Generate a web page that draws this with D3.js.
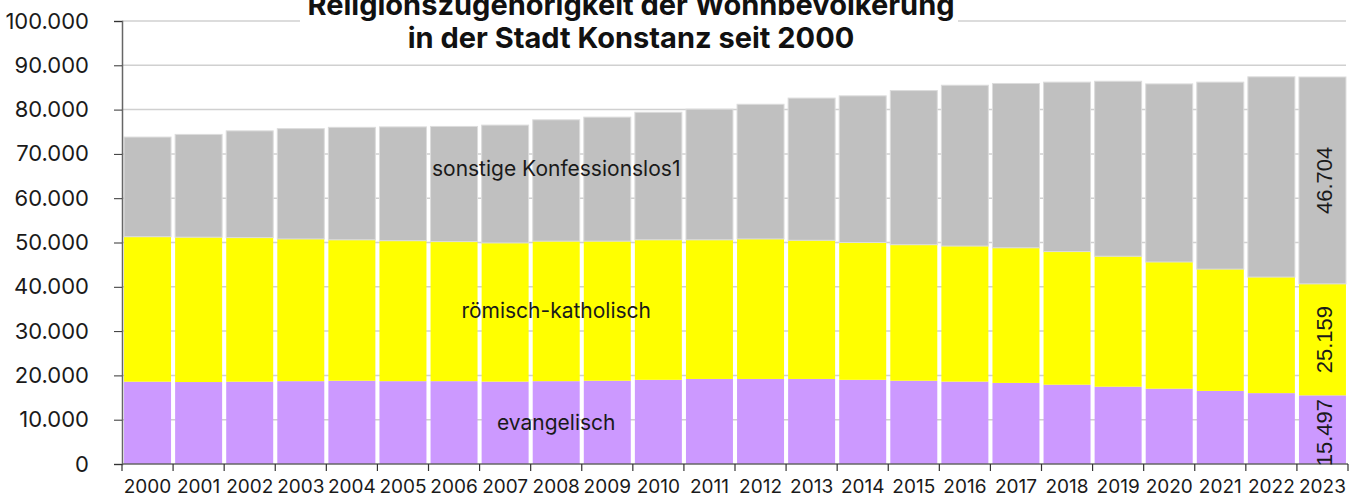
<!DOCTYPE html>
<html lang="de">
<head>
  <meta charset="UTF-8">
  <title>Religionszugehörigkeit Konstanz</title>
  <script src="https://d3js.org/d3.v7.min.js"></script>
  <style>
    html, body { margin: 0; padding: 0; background: #ffffff; }
    svg { display: block; font-family: Inter, 'Noto Sans', sans-serif; }
    .tick text { fill: #1a1a1a; }
    .cat-label { font-size: 21px; fill: #1a1a1a; text-anchor: middle; }
    .val-label { font-family: 'Liberation Sans', Arial, sans-serif; font-size: 22px; fill: #1a1a1a; text-anchor: middle; }
  </style>
</head>
<body>
  <svg id="chart" width="1356" height="499"></svg>

  <script>
    const years = ["2000","2001","2002","2003","2004","2005","2006","2007","2008","2009","2010","2011",
                   "2012","2013","2014","2015","2016","2017","2018","2019","2020","2021","2022","2023"];

    const evangelisch = [18580, 18500, 18580, 18700, 18800, 18700, 18700, 18600, 18700, 18800, 19000, 19200,
                         19200, 19200, 19000, 18800, 18600, 18300, 17900, 17450, 17000, 16500, 16000, 15497];
    const katholisch = [32720, 32700, 32520, 32100, 31800, 31700, 31500, 31300, 31600, 31500, 31600, 31400,
                        31600, 31300, 31000, 30700, 30600, 30500, 30050, 29450, 28600, 27500, 26200, 25159];
    const sonstige = [22500, 23200, 24100, 24900, 25400, 25700, 26000, 26600, 27400, 28000, 28800, 29500,
                      30400, 32100, 33100, 34800, 36300, 37100, 38250, 39500, 40200, 42200, 45200, 46704];

    const yTicks = [0, 10000, 20000, 30000, 40000, 50000, 60000, 70000, 80000, 90000, 100000];
    const titleLines = ["Religionszugehörigkeit der Wohnbevölkerung", "in der Stadt Konstanz seit 2000"];

    const seriesKeys = ["evangelisch", "katholisch", "sonstige"];
    const seriesNames = {evangelisch: "evangelisch", katholisch: "römisch-katholisch", sonstige: "sonstige Konfessionslos1"};
    const colors = {evangelisch: "#cc99ff", katholisch: "#ffff00", sonstige: "#c0c0c0"};
    // where the in-chart series names sit (year, value)
    const labelAt = {sonstige: ["2008", 65000], katholisch: ["2008", 33000], evangelisch: ["2008", 7700]};

    const table = years.map((yr, i) => ({
      year: yr, evangelisch: evangelisch[i], katholisch: katholisch[i], sonstige: sonstige[i]
    }));

    const svg = d3.select("#chart");
    const plotL = 122, plotR = 1348, plotT = 21, plotB = 464;

    const x = d3.scaleBand().domain(years).range([plotL, plotR]).paddingInner(0.08).paddingOuter(0.04);
    const y = d3.scaleLinear().domain([0, 100000]).range([plotB, plotT]);

    const fmt = d3.formatLocale({decimal: ",", thousands: ".", grouping: [3], currency: ["", "€"]}).format(",d");

    // gridlines
    svg.append("g")
      .selectAll("line")
      .data(yTicks.filter(d => d > 0))
      .join("line")
      .attr("x1", plotL).attr("x2", plotR - 2)
      .attr("y1", d => y(d)).attr("y2", d => y(d))
      .attr("stroke", "#d0d0d0").attr("stroke-width", 1.5);

    // stacked bars
    const stack = d3.stack().keys(seriesKeys)(table);
    svg.append("g")
      .selectAll("g")
      .data(stack)
      .join("g")
      .attr("fill", d => colors[d.key])
      .attr("stroke", d => d.key === "sonstige" ? "#dcdcdc" : "none")
      .selectAll("rect")
      .data(d => d)
      .join("rect")
      .attr("x", d => x(d.data.year))
      .attr("width", x.bandwidth())
      .attr("y", d => y(d[1]))
      .attr("height", d => y(d[0]) - y(d[1]));

    // y axis
    const yAxis = svg.append("g")
      .attr("transform", `translate(${plotL},0)`)
      .call(d3.axisLeft(y).tickValues(yTicks).tickFormat(fmt).tickSize(8).tickPadding(25));
    yAxis.select(".domain").attr("stroke", "#666").attr("stroke-width", 1.5);
    yAxis.selectAll(".tick line").attr("stroke", "#333");
    yAxis.selectAll(".tick text").style("font-size", "22px").style("font-family", "Inter, sans-serif");

    // x axis: labels at band centre, ticks at band boundaries
    const xAxis = svg.append("g")
      .attr("transform", `translate(0,${plotB})`)
      .call(d3.axisBottom(x).tickSize(0).tickPadding(16));
    xAxis.select(".domain").remove();
    xAxis.selectAll(".tick text").style("font-size", "19px").style("font-family", "Inter, sans-serif");

    const step = x.step();
    const bounds = d3.range(years.length + 1).map(i => plotL + i * step);
    svg.append("line")
      .attr("x1", plotL).attr("x2", plotR)
      .attr("y1", plotB).attr("y2", plotB)
      .attr("stroke", "#666").attr("stroke-width", 1.5);
    svg.append("g")
      .selectAll("line")
      .data(bounds)
      .join("line")
      .attr("x1", d => d).attr("x2", d => d)
      .attr("y1", plotB).attr("y2", plotB + 7)
      .attr("stroke", "#333").attr("stroke-width", 1.2);

    // series names inside the chart
    svg.append("g")
      .selectAll("text")
      .data(seriesKeys)
      .join("text")
      .attr("class", "cat-label")
      .attr("x", k => x(labelAt[k][0]) + x.bandwidth() / 2)
      .attr("y", k => y(labelAt[k][1]))
      .text(k => seriesNames[k]);

    // rotated value labels on the last bar
    const last = stack.map(s => ({key: s.key, seg: s[s.length - 1]}));
    svg.append("g")
      .selectAll("text")
      .data(last)
      .join("text")
      .attr("class", "val-label")
      .attr("transform", d => {
        const cx = x(d.seg.data.year) + x.bandwidth() / 2 + 2;
        const cy = (y(d.seg[0]) + y(d.seg[1])) / 2 + (d.key === "evangelisch" ? 3 : 0);
        return `translate(${cx},${cy}) rotate(-90)`;
      })
      .attr("dy", "0.35em")
      .text(d => fmt(d.seg.data[d.key]));

    // title with white box
    svg.append("rect")
      .attr("x", 300).attr("y", 0).attr("width", 658).attr("height", 56)
      .attr("fill", "#ffffff");
    svg.append("text")
      .attr("text-anchor", "middle")
      .style("font-size", "29px").style("font-weight", 700).attr("fill", "#111")
      .selectAll("tspan")
      .data(titleLines)
      .join("tspan")
      .attr("x", 631)
      .attr("y", (d, i) => 15 + i * 33)
      .text(d => d);
  </script>
</body>
</html>
